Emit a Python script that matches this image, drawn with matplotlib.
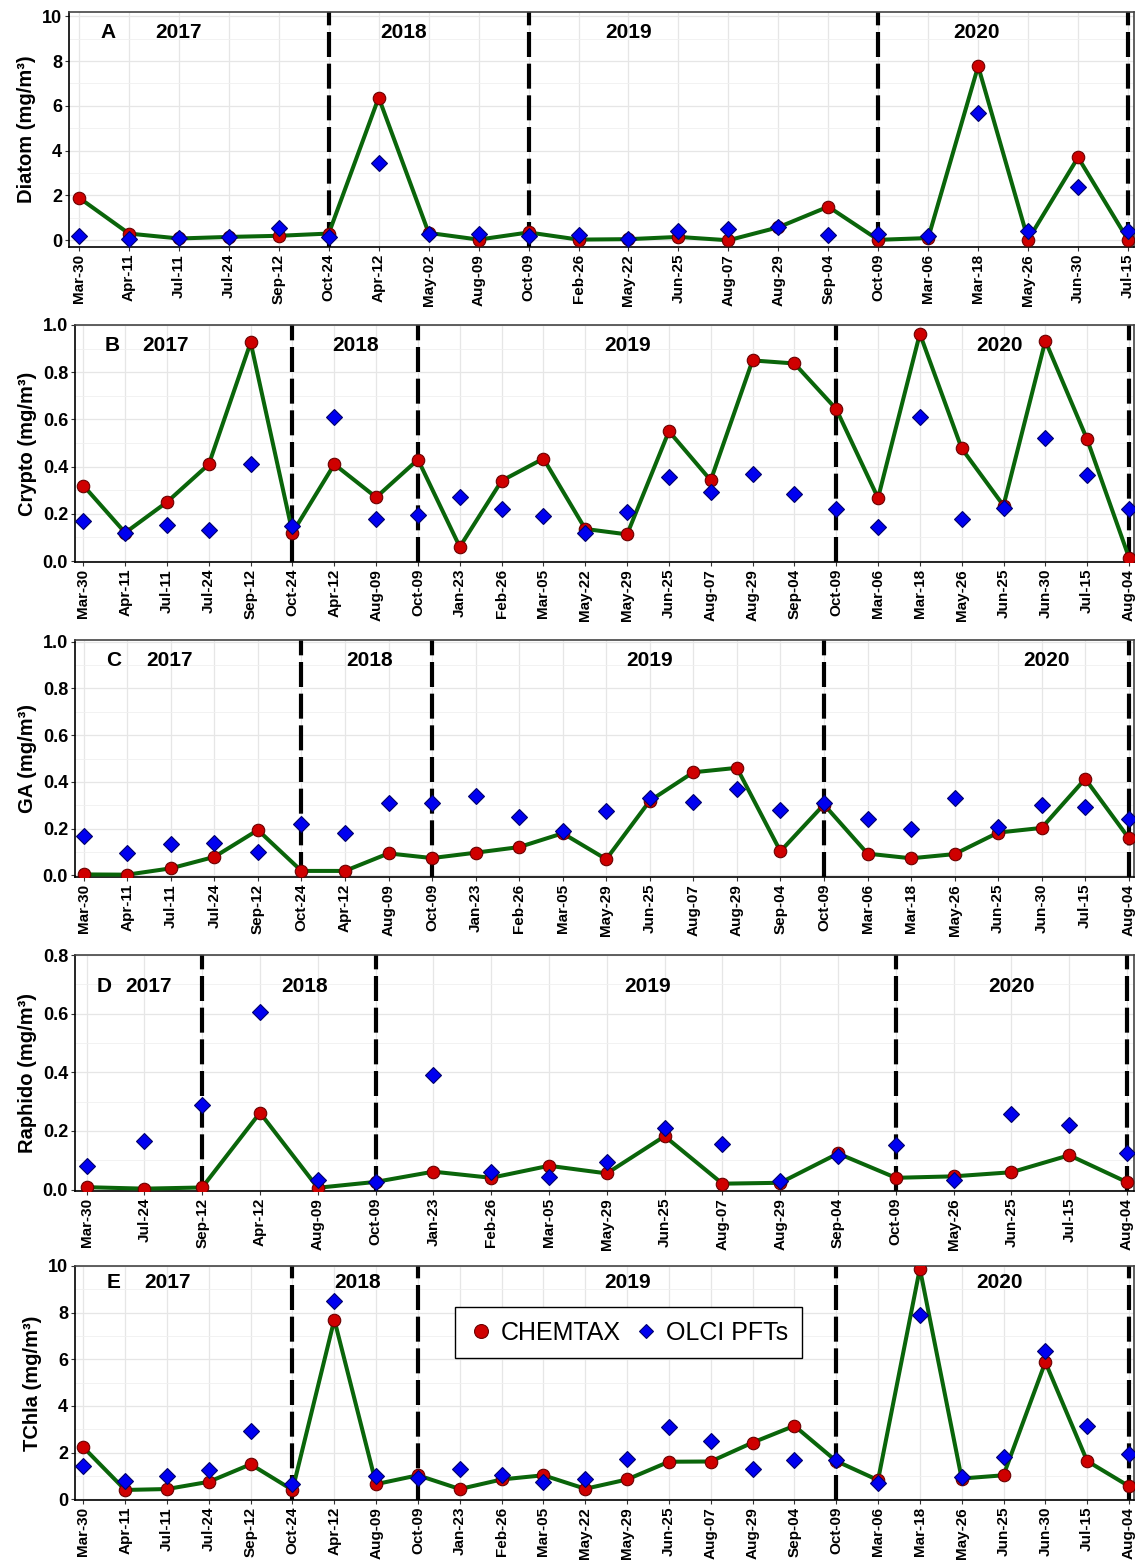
import numpy as np
import matplotlib
matplotlib.use("Agg")
import matplotlib.pyplot as plt
from matplotlib.lines import Line2D

plt.rcParams['font.family'] = ['Liberation Sans', 'DejaVu Sans']

# ---- sampling dates and pigment concentrations (mg/m3) ----
diatom_dates = ["Mar-30", "Apr-11", "Jul-11", "Jul-24", "Sep-12", "Oct-24", "Apr-12",
                "May-02", "Aug-09", "Oct-09", "Feb-26", "May-22", "Jun-25", "Aug-07",
                "Aug-29", "Sep-04", "Oct-09", "Mar-06", "Mar-18", "May-26", "Jun-30", "Jul-15"]
diatom_chemtax = [1.9, 0.3, 0.08, 0.15, 0.2, 0.3, 6.37, 0.33, 0.03, 0.35, 0.03, 0.05,
                  0.15, 0.0, 0.58, 1.5, 0.02, 0.1, 7.77, 0.02, 3.7, 0.02]
diatom_olci = [0.2, 0.05, 0.12, 0.15, 0.55, 0.15, 3.45, 0.27, 0.27, 0.18, 0.25, 0.07,
               0.43, 0.5, 0.6, 0.25, 0.3, 0.2, 5.67, 0.4, 2.4, 0.43]

crypto_dates = ["Mar-30", "Apr-11", "Jul-11", "Jul-24", "Sep-12", "Oct-24", "Apr-12",
                "Aug-09", "Oct-09", "Jan-23", "Feb-26", "Mar-05", "May-22", "May-29",
                "Jun-25", "Aug-07", "Aug-29", "Sep-04", "Oct-09", "Mar-06", "Mar-18",
                "May-26", "Jun-25", "Jun-30", "Jul-15", "Aug-04"]
crypto_chemtax = [0.32, 0.12, 0.25, 0.41, 0.926, 0.12, 0.41, 0.27, 0.43, 0.06, 0.34, 0.434,
                  0.136, 0.113, 0.55, 0.342, 0.85, 0.837, 0.644, 0.267, 0.963, 0.477,
                  0.235, 0.933, 0.515, 0.015]
crypto_olci = [0.17, 0.12, 0.153, 0.13, 0.41, 0.15, 0.61, 0.177, 0.194, 0.27, 0.22, 0.19,
               0.12, 0.206, 0.356, 0.294, 0.368, 0.286, 0.222, 0.143, 0.61, 0.18, 0.226,
               0.522, 0.366, 0.222]

ga_dates = ["Mar-30", "Apr-11", "Jul-11", "Jul-24", "Sep-12", "Oct-24", "Apr-12",
            "Aug-09", "Oct-09", "Jan-23", "Feb-26", "Mar-05", "May-29", "Jun-25",
            "Aug-07", "Aug-29", "Sep-04", "Oct-09", "Mar-06", "Mar-18", "May-26",
            "Jun-25", "Jun-30", "Jul-15", "Aug-04"]
ga_chemtax = [0.004, 0.003, 0.03, 0.079, 0.194, 0.019, 0.019, 0.094, 0.074, 0.097, 0.121,
              0.18, 0.069, 0.319, 0.441, 0.46, 0.103, 0.303, 0.093, 0.073, 0.091, 0.183,
              0.203, 0.413, 0.159]
ga_olci = [0.169, 0.097, 0.133, 0.14, 0.10, 0.221, 0.181, 0.31, 0.309, 0.341, 0.251, 0.189,
           0.276, 0.331, 0.314, 0.37, 0.281, 0.31, 0.243, 0.2, 0.329, 0.206, 0.30, 0.294, 0.24]

raphido_dates = ["Mar-30", "Jul-24", "Sep-12", "Apr-12", "Aug-09", "Oct-09", "Jan-23",
                 "Feb-26", "Mar-05", "May-29", "Jun-25", "Aug-07", "Aug-29", "Sep-04",
                 "Oct-09", "May-26", "Jun-25", "Jul-15", "Aug-04"]
raphido_chemtax = [0.008, 0.003, 0.007, 0.262, 0.006, 0.026, 0.061, 0.04, 0.081, 0.055,
                   0.182, 0.02, 0.023, 0.123, 0.04, 0.045, 0.059, 0.117, 0.025]
raphido_olci = [0.08, 0.166, 0.287, 0.604, 0.032, 0.026, 0.392, 0.06, 0.042, 0.094, 0.21,
                0.157, 0.028, 0.114, 0.152, 0.034, 0.256, 0.22, 0.125]

tchla_dates = crypto_dates
tchla_chemtax = [2.23, 0.4, 0.44, 0.75, 1.5, 0.4, 7.7, 0.65, 1.03, 0.44, 0.85, 1.03, 0.45,
                 0.85, 1.61, 1.62, 2.43, 3.15, 1.64, 0.82, 9.89, 0.89, 1.03, 5.88, 1.64, 0.56]
tchla_olci = [1.43, 0.78, 1.0, 1.27, 2.94, 0.64, 8.49, 1.02, 0.93, 1.31, 1.03, 0.75, 0.89,
              1.72, 3.1, 2.49, 1.3, 1.67, 1.69, 0.68, 7.88, 0.96, 1.81, 6.36, 3.14, 1.95]

# index of the last sample of each year (dashed separators)
diatom_breaks = [5, 9, 16, 21]
crypto_breaks = [5, 8, 18, 25]
ga_breaks = [5, 8, 17, 24]
raphido_breaks = [2, 5, 14, 18]
tchla_breaks = [5, 8, 18, 25]

years = ["2017", "2018", "2019", "2020"]

GREEN = '#0a650a'
RED = '#cf0000'
BLUE = '#0000f0'

W, H = 1137, 1565
fig = plt.figure(figsize=(W / 100, H / 100), dpi=100)


def px_axes(left, top, right, bottom):
    """Axes from pixel edges (origin top-left)."""
    return fig.add_axes([left / W, 1 - bottom / H, (right - left) / W, (bottom - top) / H])


def draw_panel(ax, dates, chem, olci, breaks, ylim, yticks, ylabel, letter,
               letter_pos, year_pos, ytext, fmt):
    n = len(dates)
    x = np.arange(n)

    ax.set_xlim(-0.2, n - 1 + 0.12)
    ax.set_ylim(*ylim)

    # background grid
    ax.set_yticks(yticks)
    minor = (np.array(yticks[:-1]) + np.array(yticks[1:])) / 2
    ax.set_yticks(minor, minor=True)
    ax.set_xticks(x)
    ax.grid(True, which='major', color='#e6e6e6', lw=0.9, zorder=0)
    ax.grid(True, which='minor', axis='y', color='#f0f0f0', lw=0.6, zorder=0)
    ax.set_axisbelow(True)

    for b in breaks:
        ax.axvline(b, color='black', lw=3.0, dashes=(6.0, 1.6), zorder=2)

    ax.plot(x, chem, color=GREEN, lw=2.9, zorder=3)
    ax.plot(x, chem, 'o', ms=9, mfc=RED, mec='#6a0000', mew=0.8, zorder=4)
    ax.plot(x, olci, 'D', ms=8, mfc=BLUE, mec='#00006a', mew=0.8, zorder=5)

    ax.set_xticklabels(dates, rotation=90, fontsize=11, fontweight='bold')
    ax.set_yticklabels([fmt.format(v) for v in yticks], fontsize=13, fontweight='bold')
    ax.tick_params(axis='both', which='major', length=3, width=0.8, color='#333333', pad=2)
    ax.tick_params(axis='y', which='minor', length=0)
    ax.set_ylabel(ylabel, fontsize=14.5, fontweight='bold', labelpad=4)

    for side in ['left', 'bottom']:
        ax.spines[side].set_color('black')
        ax.spines[side].set_linewidth(1.2)
    for side in ['top', 'right']:
        ax.spines[side].set_color('#444444')
        ax.spines[side].set_linewidth(1.2)

    ax.text(letter_pos, ytext, letter, fontsize=15, fontweight='bold',
            ha='center', va='center')
    for yr, xp in zip(years, year_pos):
        ax.text(xp, ytext, yr, fontsize=15, fontweight='bold', ha='center', va='center')


ax_a = px_axes(69, 12, 1134, 247)
draw_panel(ax_a, diatom_dates, diatom_chemtax, diatom_olci, diatom_breaks,
           (-0.3, 10.19), [0, 2, 4, 6, 8, 10], 'Diatom (mg/m³)', 'A',
           0.58, [1.99, 6.5, 11.0, 17.96], 9.26, '{:.0f}')

ax_b = px_axes(75, 325, 1134, 562)
draw_panel(ax_b, crypto_dates, crypto_chemtax, crypto_olci, crypto_breaks,
           (-0.004, 1.0), [0.0, 0.2, 0.4, 0.6, 0.8, 1.0], 'Crypto (mg/m³)', 'B',
           0.7, [1.97, 6.52, 13.0, 21.9], 0.915, '{:.1f}')

ax_c = px_axes(75, 640, 1134, 877)
draw_panel(ax_c, ga_dates, ga_chemtax, ga_olci, ga_breaks,
           (-0.007, 1.007), [0.0, 0.2, 0.4, 0.6, 0.8, 1.0], 'GA (mg/m³)', 'C',
           0.69, [1.98, 6.57, 13.0, 22.1], 0.919, '{:.1f}')

ax_d = px_axes(75, 955, 1134, 1191)
draw_panel(ax_d, raphido_dates, raphido_chemtax, raphido_olci, raphido_breaks,
           (-0.005, 0.8), [0.0, 0.2, 0.4, 0.6, 0.8], 'Raphido (mg/m³)', 'D',
           0.31, [1.08, 3.77, 9.7, 16.0], 0.692, '{:.1f}')

ax_e = px_axes(75, 1266, 1134, 1500)
draw_panel(ax_e, tchla_dates, tchla_chemtax, tchla_olci, tchla_breaks,
           (-0.03, 10.0), [0, 2, 4, 6, 8, 10], 'TChla (mg/m³)', 'E',
           0.72, [2.0, 6.55, 13.0, 21.9], 9.29, '{:.0f}')

handles = [
    Line2D([], [], ls='none', marker='o', ms=10, mfc=RED, mec='#6a0000', mew=0.8),
    Line2D([], [], ls='none', marker='D', ms=7.5, mfc=BLUE, mec='#00006a', mew=0.8),
]
leg = ax_e.legend(handles, ['CHEMTAX', 'OLCI PFTs'], ncol=2, loc='center',
                  bbox_to_anchor=(0.35, 0.598, 0.345, 0.235), fontsize=18,
                  frameon=True, fancybox=False, edgecolor='black', framealpha=1,
                  handletextpad=0.3, columnspacing=0.5, borderpad=0.55, handlelength=1.0)
leg.get_frame().set_linewidth(1.0)

fig.savefig('out.png', dpi=100)
